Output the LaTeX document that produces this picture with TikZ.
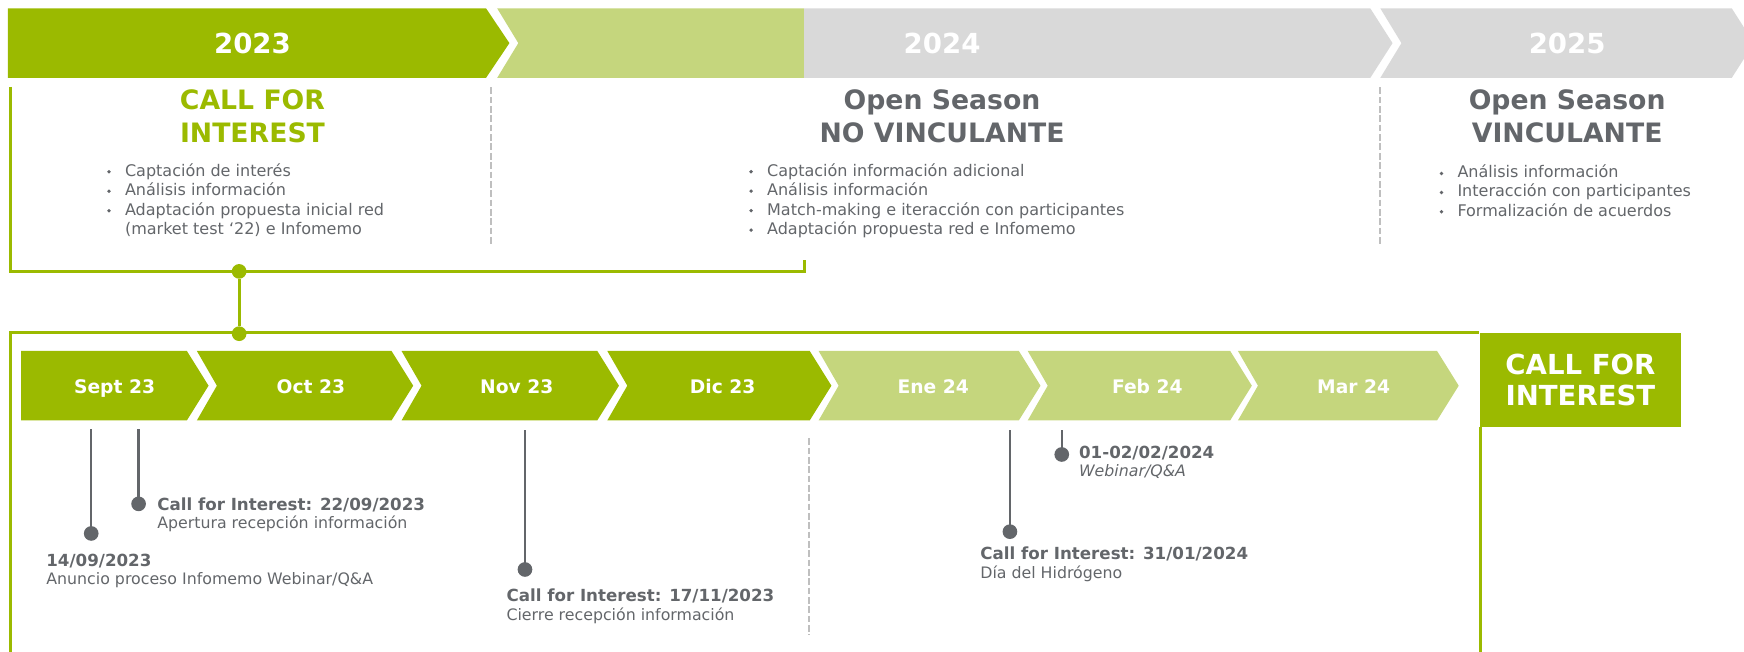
\documentclass[tikz,border=0pt]{standalone}
\usepackage{fontspec}
\setmainfont{DejaVu Sans}
\usetikzlibrary{positioning}
\definecolor{cfgreen}{RGB}{155,186,0}
\definecolor{cflight}{RGB}{197,214,125}
\definecolor{cfband}{RGB}{217,217,217}
\definecolor{cfgray}{RGB}{99,102,106}
\definecolor{cfsep}{RGB}{191,191,191}
\tikzset{
  yearlbl/.style = {anchor=base, inner sep=0pt, text=white, font=\bfseries\fontsize{12.4}{15}\selectfont},
  phasettl/.style = {anchor=base, inner sep=0pt, text=cfgray, font=\bfseries\fontsize{12}{15}\selectfont},
  bullettxt/.style = {anchor=base west, inner sep=0pt, text=cfgray, font=\fontsize{7.2}{8.7}\selectfont},
  monthlbl/.style = {anchor=base, inner sep=0pt, text=white, font=\bfseries\fontsize{8.4}{10}\selectfont},
  evdate/.style = {anchor=base west, inner sep=0pt, text=cfgray, font=\bfseries\fontsize{7.5}{9}\selectfont},
  evdesc/.style = {anchor=base west, inner sep=0pt, text=cfgray, font=\fontsize{7.1}{9}\selectfont},
  pindot/.style = {circle, fill=cfgray, inner sep=0pt, minimum size=6.6pt},
  pinline/.style = {cfgray, line width=1pt},
  knot/.style = {circle, fill=cfgreen, inner sep=0pt, minimum size=6.6pt},
  frameline/.style = {cfgreen, line width=1.35pt},
  sepline/.style = {cfsep, line width=0.9pt, dash pattern=on 3pt off 1.2pt},
  cfibox/.style = {fill=cfgreen, text=white, align=center, inner sep=0pt, minimum width=90.5pt, minimum height=42pt, font=\bfseries\fontsize{12.4}{14.25}\selectfont},
}

\begin{document}
\begin{tikzpicture}[x=0.5pt, y=-0.5pt]
\useasboundingbox (0,0) rectangle (1568,586);
\clip (0,0) rectangle (1568,586);

% year band
\fill[cfgreen] (7,7.5) -- (437,7.5) -- (458,38.75) -- (437,70) -- (7,70) -- cycle;
\fill[cflight] (447,7.5) -- (723,7.5) -- (723,70) -- (447,70) -- (466,38.75) -- cycle;
\fill[cfband] (723,7.5) -- (1232,7.5) -- (1252,38.75) -- (1232,70) -- (723,70) -- cycle;
\fill[cfband] (1241,7.5) -- (1557,7.5) -- (1577,38.75) -- (1557,70) -- (1241,70) -- (1260,38.75) -- cycle;
\node[yearlbl] (y23) at (227,48) {2023};
\node[yearlbl] (y24) at (847,48) {2024};
\node[yearlbl] (y25) at (1409,48) {2025};

% phase titles
\node[phasettl, text=cfgreen] (t1a) at (227,98.5) {CALL FOR};
\node[phasettl, text=cfgreen] (t1b) at (227,128) {INTEREST};
\node[phasettl] (t2a) at (847,98.5) {Open Season};
\node[phasettl] (t2b) at (847,128) {NO VINCULANTE};
\node[phasettl] (t3a) at (1409,98.5) {Open Season};
\node[phasettl] (t3b) at (1409,128) {VINCULANTE};

% bullet lists
\foreach \bx/\by/\txt [count=\i] in {
  112/158.3/Captación de interés,
  112/175.8/Análisis información,
  112/193.3/Adaptación propuesta inicial red,
  689.3/158.3/Captación información adicional,
  689.3/175.8/Análisis información,
  689.3/193.3/Match-making e iteracción con participantes,
  689.3/210.8/Adaptación propuesta red e Infomemo,
  1310/159.8/Análisis información,
  1310/177/Interacción con participantes,
  1310/194.3/Formalización de acuerdos}
{
  \fill[cfgray] (\bx-14,\by-3.9) circle (0.85pt);
  \node[bullettxt] (b\i) at (\bx,\by) {\txt};
}
\node[bullettxt] (b3x) at (112,210.8) {(market test ‘22) e Infomemo};

% separators
\draw[sepline] (441,78.6) -- (441,219);
\draw[sepline] (1240.7,78.6) -- (1240.7,219);
\draw[sepline] (727,394) -- (727,571);

% green frames
\draw[frameline] (9,78) |- (723,244) -- (723,234);
\node[cfibox, anchor=north west] (cfi) at (1330,299.3) {CALL FOR\\INTEREST};
\draw[frameline] (9,590) |- (cfi.north west);
\draw[frameline] ([xshift=0.7pt]cfi.south west) -- ++(0,300);
\node[knot] (k1) at (215,244) {};
\node[knot] (k2) at (215,300) {};
\draw[frameline] (k1) -- (k2);

% months
\foreach \L/\B/\n/\col/\lx/\txt [count=\i] in {
  19/168/0/cfgreen/103/Sept 23,
  177/352/18/cfgreen/279.5/Oct 23,
  361/537/18/cfgreen/464.6/Nov 23,
  546/728/18/cfgreen/649.7/Dic 23,
  736/916/18/cflight/839/Ene 24,
  924/1106/18/cflight/1031.5/Feb 24,
  1113/1292/18/cflight/1217/Mar 24}
{
  \fill[\col] (\L,315.5) -- (\B,315.5) -- (\B+19.5,346.75) -- (\B,378) -- (\L,378) -- (\L+\n,346.75) -- cycle;
  \node[monthlbl] (m\i) at (\lx,353.7) {\txt};
}

% events
\coordinate (p1top) at (82,386);
\node[pindot] (p1) at (82,479.6) {};
\draw[pinline] (p1top) -- (p1.center);
\node[evdate] (e1) at (41.3,509) {14/09/2023};
\node[evdesc] (e1d) at (41.3,525.5) {Anuncio proceso Infomemo Webinar/Q\&A};

\coordinate (p2top) at (124.6,386);
\node[pindot] (p2) at (124.6,453) {};
\draw[pinline] (p2top) -- (p2.center);
\node[evdate] (e2) at (141,458.6) {Call for Interest: 22/09/2023};
\node[evdesc] (e2d) at (141,475) {Apertura recepción información};

\coordinate (p3top) at (472,387);
\node[pindot] (p3) at (472,512) {};
\draw[pinline] (p3top) -- (p3.center);
\node[evdate] (e3) at (455,541) {Call for Interest: 17/11/2023};
\node[evdesc] (e3d) at (455,557.6) {Cierre recepción información};

\coordinate (p4top) at (908,387);
\node[pindot] (p4) at (908,478) {};
\draw[pinline] (p4top) -- (p4.center);
\node[evdate] (e4) at (881,503) {Call for Interest: 31/01/2024};
\node[evdesc] (e4d) at (881,520) {Día del Hidrógeno};

\coordinate (p5top) at (954.6,387);
\node[pindot] (p5) at (954.6,408.6) {};
\draw[pinline] (p5top) -- (p5.center);
\node[evdate] (e5) at (969.8,412) {01-02/02/2024};
\node[evdesc] (e5d) at (969.8,428.7) {\itshape Webinar/Q\&A};
\end{tikzpicture}
\end{document}
